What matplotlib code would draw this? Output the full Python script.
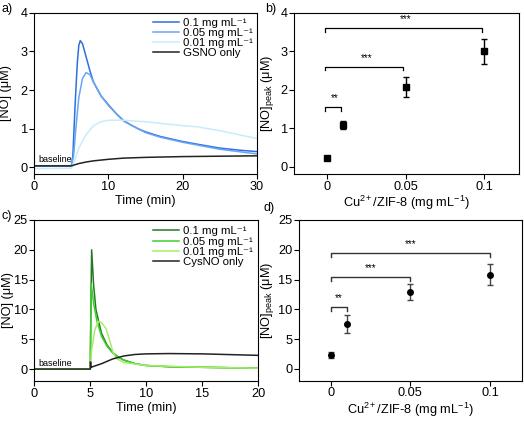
import matplotlib
matplotlib.use("Agg")
import matplotlib.pyplot as plt

plt.rcParams['font.family'] = ['Liberation Sans', 'DejaVu Sans']
plt.rcParams['mathtext.fontset'] = 'custom'
plt.rcParams['mathtext.rm'] = 'Liberation Sans'
plt.rcParams['mathtext.it'] = 'Liberation Sans:italic'
plt.rcParams['mathtext.bf'] = 'Liberation Sans:bold'
plt.rcParams['font.size'] = 9
plt.rcParams['axes.linewidth'] = 0.8

# ---------------- Panel a data (GSNO) ----------------
a_t_01 = [0, 5, 5.2, 5.5, 5.8, 6.0, 6.2, 6.5, 7, 7.5, 8, 9, 10, 11, 12, 13, 14, 15, 17, 20, 22, 25, 28, 30]
a_y_01 = [0.04, 0.04, 0.3, 1.6, 2.7, 3.15, 3.28, 3.2, 2.85, 2.5, 2.2, 1.85, 1.62, 1.4, 1.22, 1.1, 1.0, 0.92, 0.8, 0.67, 0.6, 0.5, 0.44, 0.41]
a_t_005 = [0, 5, 5.3, 5.6, 6.0, 6.5, 7.0, 7.5, 8, 9, 10, 12, 15, 17, 20, 25, 30]
a_y_005 = [0.04, 0.04, 0.3, 1.0, 1.8, 2.3, 2.45, 2.4, 2.2, 1.85, 1.6, 1.2, 0.9, 0.78, 0.65, 0.47, 0.35]
a_t_001 = [0, 5, 5.5, 6, 7, 8, 9, 10, 12, 15, 18, 20, 22, 25, 28, 30]
a_y_001 = [-0.03, -0.02, 0.2, 0.5, 0.85, 1.08, 1.18, 1.22, 1.22, 1.18, 1.12, 1.08, 1.05, 0.95, 0.83, 0.75]
a_t_gsno = [0, 5, 6, 7, 8, 10, 12, 15, 20, 25, 30]
a_y_gsno = [0.04, 0.04, 0.1, 0.14, 0.17, 0.21, 0.24, 0.26, 0.28, 0.29, 0.3]

# ---------------- Panel b data ----------------
b_conc = [0, 0.01, 0.05, 0.1]
b_peak = [0.22, 1.08, 2.07, 3.0]
b_err = [0.04, 0.1, 0.25, 0.32]

# ---------------- Panel c data (CysNO) ----------------
c_t_01 = [0, 5, 5.05, 5.12, 5.3, 5.5, 6, 6.5, 7, 7.5, 8, 9, 10, 12, 15, 20]
c_y_01 = [0, 0, 10, 20, 14, 10, 6, 4, 2.8, 2.0, 1.5, 0.9, 0.6, 0.4, 0.3, 0.15]
c_t_005 = [0, 5, 5.08, 5.3, 5.6, 6, 6.5, 7, 7.5, 8, 9, 10, 12, 15, 20]
c_y_005 = [0, 0, 14.3, 11, 8, 5.5, 3.8, 2.7, 2.0, 1.5, 0.9, 0.6, 0.4, 0.3, 0.15]
c_t_001 = [0, 5, 5.1, 5.4, 5.7, 6, 6.4, 6.7, 7, 7.3, 8, 10, 15, 20]
c_y_001 = [0, 0, 3, 6.5, 8.0, 7.8, 6.8, 5, 3, 1.8, 1.1, 0.6, 0.3, 0.15]
c_t_cys = [0, 5, 5.02, 5.06, 6, 7, 8, 9, 10, 12, 15, 18, 20]
c_y_cys = [0, 0, 1.2, 0.3, 0.9, 1.7, 2.2, 2.45, 2.55, 2.6, 2.55, 2.4, 2.3]

# ---------------- Panel d data ----------------
d_conc = [0, 0.01, 0.05, 0.1]
d_peak = [2.3, 7.5, 12.9, 15.8]
d_err = [0.5, 1.5, 1.3, 1.75]

# significance brackets: (x_start, x_end, y, label)
b_brackets = [(0, 0.01, 1.54, "**"), (0, 0.05, 2.6, "***"), (0, 0.1, 3.61, "***")]
d_brackets = [(0, 0.01, 10.4, "**"), (0, 0.05, 15.5, "***"), (0, 0.1, 19.5, "***")]

a_labels = ['0.1 mg mL⁻¹', '0.05 mg mL⁻¹', '0.01 mg mL⁻¹', 'GSNO only']
c_labels = ['0.1 mg mL⁻¹', '0.05 mg mL⁻¹', '0.01 mg mL⁻¹', 'CysNO only']

W, H = 524, 421
fig = plt.figure(figsize=(W / 100, H / 100), dpi=100)

def ax_px(l, r, t, b):
    return fig.add_axes([l / W, (H - b) / H, (r - l) / W, (b - t) / H])

ax_a = ax_px(34.3, 256.7, 12.7, 174)
ax_b = ax_px(294.3, 518.7, 12.7, 174)
ax_c = ax_px(34.3, 258.3, 220, 381)
ax_d = ax_px(298.7, 522, 220, 380.7)

for ax in (ax_a, ax_b, ax_c, ax_d):
    ax.tick_params(direction='out', length=3.5, width=0.8, pad=1.2, labelsize=9.2,
                   top=False, right=False)

leg_kw = dict(frameon=False, handlelength=2.3, handletextpad=0.35, labelspacing=0.02,
              borderaxespad=0, borderpad=0, fontsize=8.2, loc='upper left')

# Panel a
lw = 1.1
ax_a.plot(a_t_01, a_y_01, color='#2e6fe0', lw=lw, label=a_labels[0])
ax_a.plot(a_t_005, a_y_005, color='#6aa6f2', lw=lw, label=a_labels[1])
ax_a.plot(a_t_001, a_y_001, color='#c8ecfc', lw=lw, label=a_labels[2])
ax_a.plot(a_t_gsno, a_y_gsno, color='#222222', lw=lw, label=a_labels[3])
ax_a.set_xlim(0, 30)
ax_a.set_ylim(-0.17, 4)
ax_a.set_xticks([0, 10, 20, 30])
ax_a.set_yticks([0, 1, 2, 3, 4])
ax_a.set_xlabel('Time (min)', labelpad=2, fontsize=9.2)
ax_a.set_ylabel('[NO] (μM)', fontsize=9.2)
ax_a.yaxis.set_label_coords(-0.100, 0.5)
ax_a.text(0.5, 0.2, 'baseline', fontsize=6.5, va='center', ha='left')
ax_a.legend(bbox_to_anchor=(0.534, 0.97), **leg_kw)

# Panel b
ax_b.errorbar(b_conc, b_peak, yerr=b_err, fmt='s', color='black', ms=4,
              capsize=2, elinewidth=1, capthick=1)
ax_b.set_xlim(-0.021, 0.122)
ax_b.set_ylim(-0.19, 4)
ax_b.set_xticks([0, 0.05, 0.1])
ax_b.set_xticklabels(['0', '0.05', '0.1'])
ax_b.set_yticks([0, 1, 2, 3, 4])
ax_b.set_xlabel('Cu$^{2+}$/ZIF-8 (mg mL$^{-1}$)', labelpad=1, fontsize=9.2)
ax_b.set_ylabel('[NO]$_{\\mathrm{peak}}$ (μM)', fontsize=9.2)
ax_b.yaxis.set_label_coords(-0.082, 0.5)
for x0, x1, y, lab in b_brackets:
    ax_b.plot([x0 - 0.0015, x0 - 0.0015, x1 - 0.0015, x1 - 0.0015], [y - 0.1, y, y, y - 0.1],
              color='black', lw=0.9)
    ax_b.text((x0 + x1) / 2, y + 0.1, lab, ha='center', va='bottom', fontsize=7)

# Panel c
ax_c.plot(c_t_01, c_y_01, color='#237a23', lw=lw, label=c_labels[0])
ax_c.plot(c_t_005, c_y_005, color='#3ccf2a', lw=lw, label=c_labels[1])
ax_c.plot(c_t_001, c_y_001, color='#a6ee66', lw=lw, label=c_labels[2])
ax_c.plot(c_t_cys, c_y_cys, color='#222222', lw=lw, label=c_labels[3])
ax_c.set_xlim(0, 20)
ax_c.set_ylim(-2, 25)
ax_c.set_xticks([0, 5, 10, 15, 20])
ax_c.set_yticks([0, 5, 10, 15, 20, 25])
ax_c.set_xlabel('Time (min)', labelpad=2, fontsize=9.2)
ax_c.set_ylabel('[NO] (μM)', fontsize=9.2)
ax_c.yaxis.set_label_coords(-0.092, 0.5)
ax_c.text(0.35, 1.0, 'baseline', fontsize=6.5, va='center', ha='left')
ax_c.legend(bbox_to_anchor=(0.529, 0.96), **leg_kw)

# Panel d
ax_d.errorbar(d_conc, d_peak, yerr=d_err, fmt='o', color='black', ecolor='#444444',
              ms=4, capsize=2, elinewidth=1, capthick=1)
ax_d.set_xlim(-0.02, 0.12)
ax_d.set_ylim(-2, 25)
ax_d.set_xticks([0, 0.05, 0.1])
ax_d.set_xticklabels(['0', '0.05', '0.1'])
ax_d.set_yticks([0, 5, 10, 15, 20, 25])
ax_d.set_xlabel('Cu$^{2+}$/ZIF-8 (mg mL$^{-1}$)', labelpad=1, fontsize=9.2)
ax_d.set_ylabel('[NO]$_{\\mathrm{peak}}$ (μM)', fontsize=9.2)
ax_d.yaxis.set_label_coords(-0.102, 0.5)
for x0, x1, y, lab in d_brackets:
    ax_d.plot([x0, x0, x1, x1], [y - 0.7, y, y, y - 0.7], color='#333333', lw=1.0)
    ax_d.text((x0 + x1) / 2, y + 0.6, lab, ha='center', va='bottom', fontsize=7)

# panel labels
for lab, x, y in (('a)', 1, 9), ('b)', 265, 9), ('c)', 1, 216), ('d)', 264, 208)):
    fig.text(x / W, 1 - y / H, lab, fontsize=9, ha='left', va='center')

fig.savefig('out.png', dpi=100)
